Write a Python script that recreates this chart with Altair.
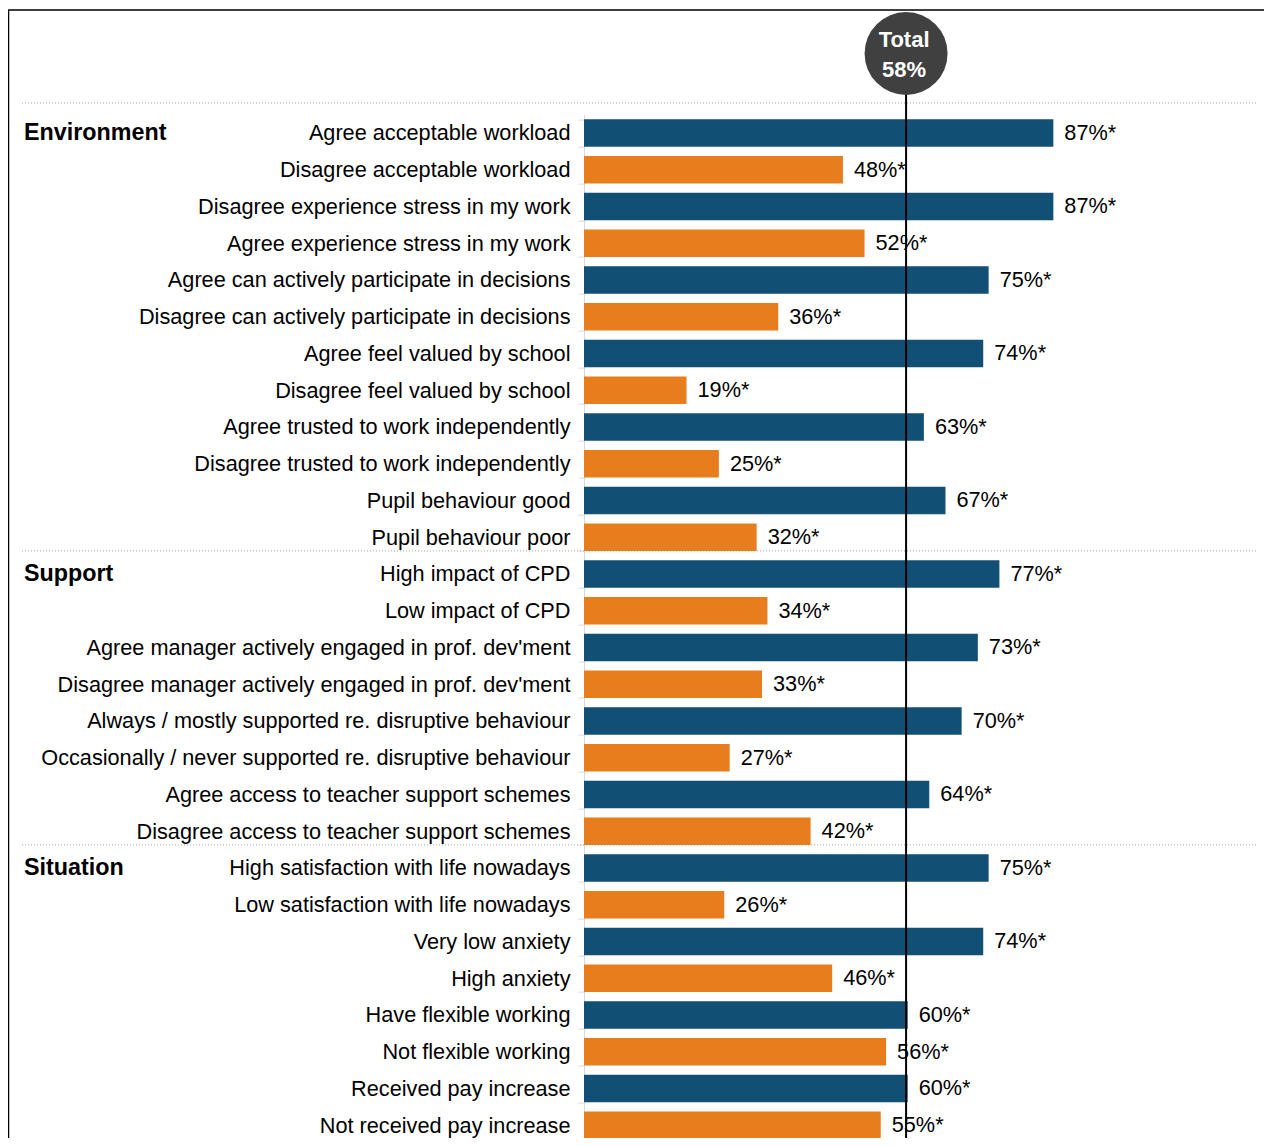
import altair as alt
import pandas as pd

# ---------------- data ----------------
labels = [
    "Agree acceptable workload",
    "Disagree acceptable workload",
    "Disagree experience stress in my work",
    "Agree experience stress in my work",
    "Agree can actively participate in decisions",
    "Disagree can actively participate in decisions",
    "Agree feel valued by school",
    "Disagree feel valued by school",
    "Agree trusted to work independently",
    "Disagree trusted to work independently",
    "Pupil behaviour good",
    "Pupil behaviour poor",
    "High impact of CPD",
    "Low impact of CPD",
    "Agree manager actively engaged in prof. dev'ment",
    "Disagree manager actively engaged in prof. dev'ment",
    "Always / mostly supported re. disruptive behaviour",
    "Occasionally / never supported re. disruptive behaviour",
    "Agree access to teacher support schemes",
    "Disagree access to teacher support schemes",
    "High satisfaction with life nowadays",
    "Low satisfaction with life nowadays",
    "Very low anxiety",
    "High anxiety",
    "Have flexible working",
    "Not flexible working",
    "Received pay increase",
    "Not received pay increase",
]
values = [87, 48, 87, 52, 75, 36, 74, 19, 63, 25, 67, 32,
          77, 34, 73, 33, 70, 27, 64, 42,
          75, 26, 74, 46, 60, 56, 60, 55]
polarity = ["positive", "negative"] * 14
groups = ["Environment"] * 12 + ["Support"] * 8 + ["Situation"] * 8
value_texts = [f"{v}%*" for v in values]

total_title = "Total"
total_value = 58
total_line_at = 59.7  # where the reference draws the total marker line

# ---------------- frames ----------------
df = pd.DataFrame({
    "label": labels,
    "value": values,
    "polarity": polarity,
    "group": groups,
    "text": value_texts,
})
first_rows = df.drop_duplicates("group")
last_rows = df.drop_duplicates("group", keep="last").iloc[:-1]
total_df = pd.DataFrame({"pos": [total_line_at], "title": [total_title],
                         "vtext": [f"{total_value}%"]})
one = pd.DataFrame({"a": [0]})

FONT = "Liberation Sans"
BLUE = "#124F75"
ORANGE = "#E87D1E"
FS = 21.7

x_scale = alt.Scale(domain=[0, 100], range=[0, 539.5], nice=False)
y_scale = alt.Scale(range=[0, 1029], paddingInner=0.255, paddingOuter=0.1275)

y_enc = alt.Y(
    "label:N", sort=labels, scale=y_scale, title=None,
    axis=alt.Axis(
        labelFont=FONT, labelFontSize=FS, labelColor="#000000",
        labelLimit=0, labelPadding=8, tickSize=6, tickBand="extent",
        domainColor="#d9d9d9", tickColor="#d9d9d9", grid=False,
    ),
)
x_enc = alt.X("value:Q", scale=x_scale, axis=None)

border = alt.Chart(one).mark_rect(
    fillOpacity=0, stroke="#000000", strokeWidth=1.5
).encode(
    x=alt.value(-575.5), x2=alt.value(720),
    y=alt.value(-104.6), y2=alt.value(1100),
)

top_sep = alt.Chart(one).mark_rule(
    color="#a6a6a6", strokeWidth=1, strokeDash=[1, 2]
).encode(
    x=alt.value(-562), x2=alt.value(673), y=alt.value(-11.6)
)

group_seps = alt.Chart(last_rows).mark_rule(
    color="#a6a6a6", strokeWidth=1, strokeDash=[1, 2]
).encode(
    x=alt.value(-562), x2=alt.value(673),
    y=alt.Y("label:N", sort=labels, bandPosition=1),
)

bars = alt.Chart(df).mark_bar().encode(
    x=x_enc,
    y=y_enc,
    color=alt.Color("polarity:N",
                    scale=alt.Scale(domain=["positive", "negative"],
                                    range=[BLUE, ORANGE]),
                    legend=None),
)

value_labels = alt.Chart(df).mark_text(
    align="left", baseline="middle", dx=11, font=FONT, fontSize=FS,
    color="#000000"
).encode(
    x="value:Q",
    y=alt.Y("label:N", sort=labels),
    text="text:N",
)

group_labels = alt.Chart(first_rows).mark_text(
    align="left", baseline="middle", font=FONT, fontSize=23.3,
    fontWeight="bold", color="#000000"
).encode(
    x=alt.value(-560),
    y=alt.Y("label:N", sort=labels),
    text="group:N",
)

total_rule = alt.Chart(total_df).mark_rule(
    color="#000000", strokeWidth=2
).encode(
    x=alt.X("pos:Q"), y=alt.value(-61), y2=alt.value(1100)
)

total_circle = alt.Chart(total_df).mark_circle(
    color="#404040", opacity=1, size=6889
).encode(
    x=alt.X("pos:Q"), y=alt.value(-61.1)
)

total_t1 = alt.Chart(total_df).mark_text(
    align="center", baseline="alphabetic", dx=-2, font=FONT, fontSize=22,
    fontWeight="bold", color="#ffffff"
).encode(
    x=alt.X("pos:Q"), y=alt.value(-67.3), text="title:N"
)

total_t2 = alt.Chart(total_df).mark_text(
    align="center", baseline="alphabetic", dx=-2, font=FONT, fontSize=22,
    fontWeight="bold", color="#ffffff"
).encode(
    x=alt.X("pos:Q"), y=alt.value(-37.9), text="vtext:N"
)

chart = alt.layer(
    border, top_sep, group_seps, bars, value_labels, group_labels,
    total_rule, total_circle, total_t1, total_t2
).properties(
    width=680,
    height=1023.4,
    padding={"left": 576, "top": 106.6, "right": 0, "bottom": 0},
    autosize=alt.AutoSizeParams(type="none"),
    background="#ffffff",
).configure_view(
    strokeWidth=0
)

chart.save("out.html", embed_options={"renderer": "svg", "actions": False})
